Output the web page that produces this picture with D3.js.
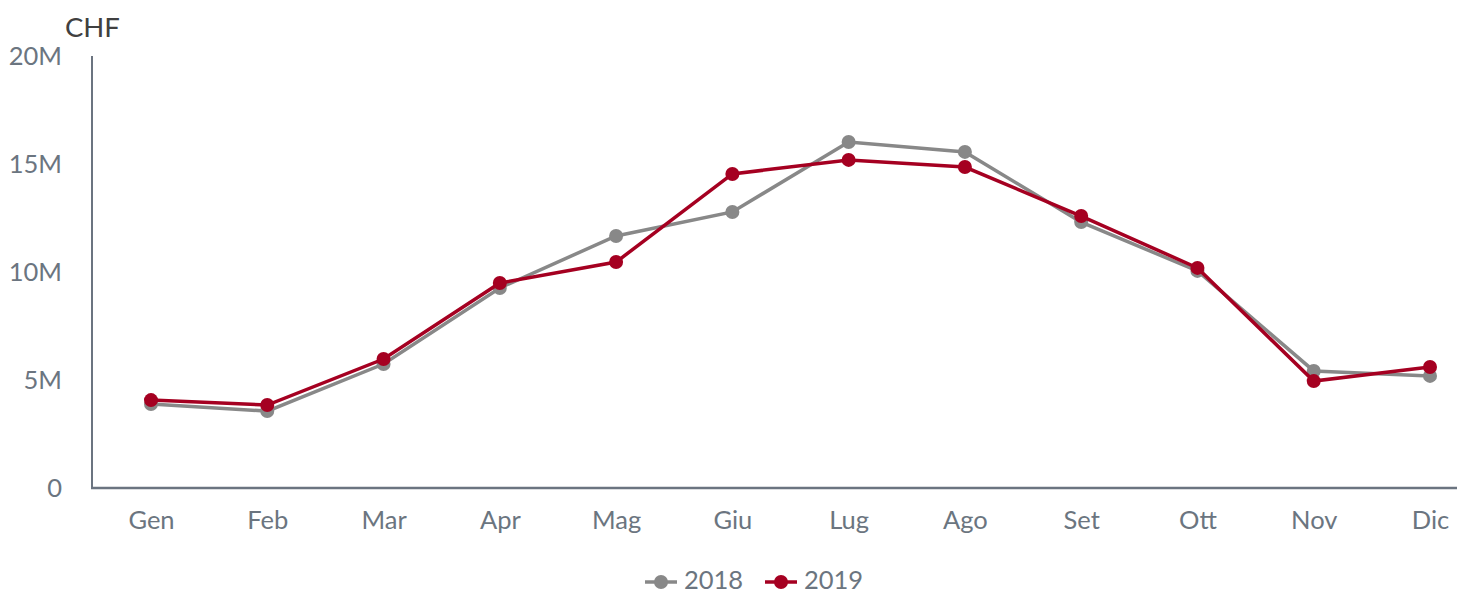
<!DOCTYPE html>
<html lang="it">
<head>
<meta charset="UTF-8">
<title>CHF 2018 vs 2019</title>
<script src="https://cdn.jsdelivr.net/npm/d3@7"></script>
<style>
    body { margin: 0; background: #fff; }
    text { font-family: Lato, "Open Sans", sans-serif; }
</style>
</head>
<body>
<script>
// dati (milioni CHF)
const months = ['Gen', 'Feb', 'Mar', 'Apr', 'Mag', 'Giu', 'Lug', 'Ago', 'Set', 'Ott', 'Nov', 'Dic']
const values2018 = [3.89, 3.56, 5.74, 9.26, 11.67, 12.78, 16.02, 15.56, 12.31, 10.05, 5.42, 5.19]
const values2019 = [4.07, 3.84, 5.97, 9.49, 10.46, 14.54, 15.19, 14.86, 12.59, 10.19, 4.95, 5.60]
const yTicks = [0, 5, 10, 15, 20]
const seriesNames = ['2018', '2019']

const w = 1457, h = 593
const padLeft = 92, padBottom = 488, padTop = 56
const colors = { '2018': '#888888', '2019': '#a50021' }

const svg = d3.select('body').append('svg')
    .attr('width', w)
    .attr('height', h)

const x = d3.scalePoint()
    .domain(months)
    .range([151, 1430])

const y = d3.scaleLinear()
    .domain([0, 20])
    .range([padBottom, padTop])

// asse y
const yAxis = svg.append('g')
    .attr('transform', 'translate(' + padLeft + ',0)')
    .call(d3.axisLeft(y).tickValues(yTicks).tickSize(0).tickPadding(30)
        .tickFormat(d => d === 0 ? '0' : d + 'M'))
yAxis.select('.domain').remove()
yAxis.selectAll('text')
    .attr('fill', '#6b7580')
    .style('font-size', '25.5px')
    .style('font-family', 'Lato, sans-serif')

svg.append('line')
    .attr('x1', padLeft).attr('x2', padLeft)
    .attr('y1', padTop).attr('y2', padBottom + 1)
    .attr('stroke', '#6b7480')
    .attr('stroke-width', 2)

// asse x
const xAxis = svg.append('g')
    .attr('transform', 'translate(0,' + padBottom + ')')
    .call(d3.axisBottom(x).tickSize(0).tickPadding(23))
xAxis.select('.domain').remove()
xAxis.selectAll('text')
    .attr('fill', '#6b7580')
    .style('font-size', '25.5px')
    .style('font-family', 'Lato, sans-serif')

svg.append('line')
    .attr('x1', padLeft - 1).attr('x2', w)
    .attr('y1', padBottom).attr('y2', padBottom)
    .attr('stroke', '#6b7480')
    .attr('stroke-width', 2.5)

svg.append('text')
    .attr('x', 65)
    .attr('y', 37)
    .attr('fill', '#404040')
    .style('font-size', '27.5px')
    .text('CHF')

// linee
const line = d3.line()
    .x((d, i) => x(months[i]))
    .y(d => y(d))

const series = [
    { name: '2018', values: values2018 },
    { name: '2019', values: values2019 }
]

series.forEach(s => {
    const g = svg.append('g')
    g.append('path')
        .datum(s.values)
        .attr('fill', 'none')
        .attr('stroke', colors[s.name])
        .attr('stroke-width', 3.5)
        .attr('d', line)
    g.selectAll('circle')
        .data(s.values)
        .enter()
        .append('circle')
        .attr('cx', (d, i) => x(months[i]))
        .attr('cy', d => y(d))
        .attr('r', 7)
        .attr('fill', colors[s.name])
})

// legenda
const legend = svg.append('g')
const legendPos = [645, 765]
seriesNames.forEach((name, i) => {
    const lx = legendPos[i]
    legend.append('line')
        .attr('x1', lx).attr('x2', lx + 32)
        .attr('y1', 582).attr('y2', 582)
        .attr('stroke', colors[name])
        .attr('stroke-width', 3.5)
    legend.append('circle')
        .attr('cx', lx + 16).attr('cy', 582)
        .attr('r', 7)
        .attr('fill', colors[name])
    legend.append('text')
        .attr('x', lx + 39)
        .attr('y', 589)
        .attr('fill', '#6b7580')
        .style('font-size', '25.5px')
        .text(name)
})
</script>
</body>
</html>
